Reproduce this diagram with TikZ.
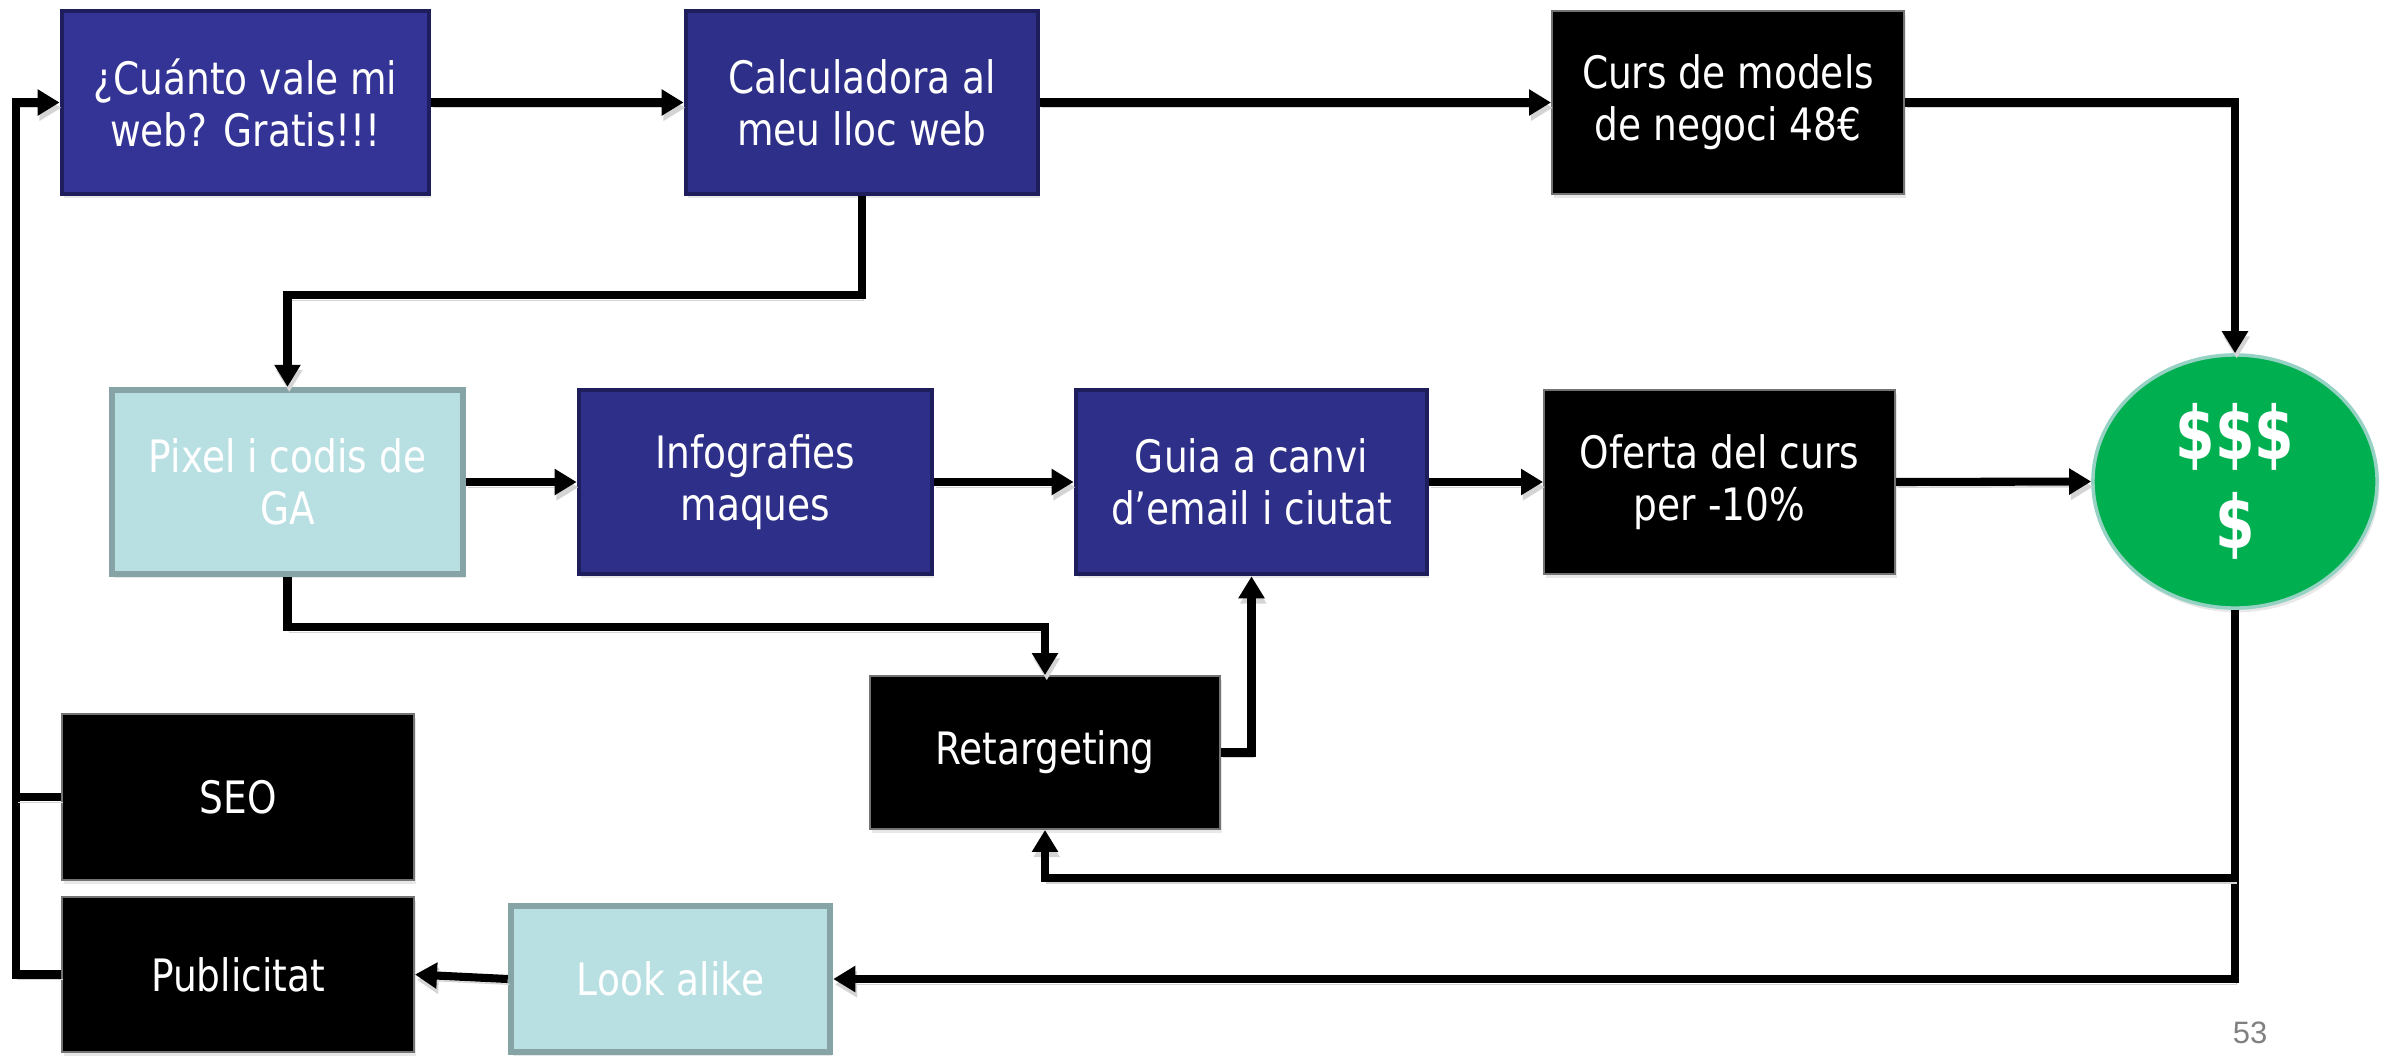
\documentclass[tikz,border=0pt]{standalone}
\usepackage{fontspec}
\setmainfont{DejaVu Sans}[FakeStretch=0.84]
\newfontfamily\moneyfont{DejaVu Sans}[FakeStretch=0.77]
\newfontfamily\numfont{Liberation Sans}
\usetikzlibrary{arrows.meta,shapes.geometric,shadows,calc}
\definecolor{navyA}{RGB}{52,52,150}
\definecolor{navy}{RGB}{46,47,136}
\definecolor{navyedge}{RGB}{30,30,92}
\definecolor{tealfill}{RGB}{184,223,226}
\definecolor{tealedge}{RGB}{134,164,166}
\definecolor{money}{RGB}{0,176,80}
\definecolor{moneyedge}{RGB}{150,210,195}
\begin{document}
\begin{tikzpicture}[x=0.01cm,y=-0.01cm,
  box/.style={rectangle, minimum width=3.52cm, minimum height=1.83cm, align=center, text=white,
    font=\fontsize{12.7}{14.8}\selectfont, inner sep=2pt,
    drop shadow={shadow xshift=0.6pt, shadow yshift=-1.2pt, opacity=0.18}},
  bluebox/.style={box, fill=navy, draw=navyedge, line width=1.3pt},
  blackbox/.style={box, fill=black, draw=black!55, line width=0.5pt},
  tealbox/.style={box, fill=tealfill, draw=tealedge, line width=1.8pt},
  wire/.style={line width=2.3pt, preaction={draw=black!17, transform canvas={shift={(0.5pt,-1.5pt)}}}},
  conn/.style={wire, -{Triangle[length=0.22cm,width=0.25cm]}}]
\useasboundingbox (0,0) rectangle (2385,1057);

% nodes
\node[bluebox, fill=navyA] (cuanto) at (245.5,102.5) [minimum width=3.67cm] {¿Cuánto vale mi\\web? Gratis!!!};
\node[bluebox] (calc) at (862,102.5) {Calculadora al\\meu lloc web};
\node[blackbox] (curs) at (1728,102.5) {Curs de models\\de negoci 48€};
\node[tealbox] (pixel) at (287.5,482) [minimum width=3.51cm, minimum height=1.84cm] {Pixel i codis de\\GA};
\node[bluebox] (info) at (755.5,482) [minimum width=3.53cm, minimum height=1.84cm] {Infografies\\maques};
\node[bluebox] (guia) at (1251.5,482) [minimum width=3.51cm, minimum height=1.84cm] {Guia a canvi\\d’email i ciutat};
\node[blackbox] (oferta) at (1719.5,482) [minimum width=3.51cm, minimum height=1.84cm] {Oferta del curs\\per -10\%};
\node[ellipse, fill=money, draw=moneyedge, line width=1pt, minimum width=2.84cm, minimum height=2.53cm,
  inner sep=0pt, align=center, text=white, font=\moneyfont\fontsize{21}{25.3}\selectfont\bfseries,
  drop shadow={shadow xshift=0.6pt, shadow yshift=-1.2pt, opacity=0.18}] (circ) at (2235,481.5) {\$\$\$\\\$};
\node[blackbox] (ret) at (1045,752.5) [minimum width=3.5cm, minimum height=1.53cm] {Retargeting};
\node[blackbox] (seo) at (238,797) [minimum height=1.66cm] {SEO};
\node[blackbox] (publ) at (238,974.5) [minimum height=1.55cm] {Publicitat};
\node[tealbox] (look) at (670.5,979) [minimum width=3.19cm, minimum height=1.46cm] {Look alike};
\node[font=\numfont\fontsize{8.8}{10}\selectfont, text=black!50] (num) at (2250,1033) {53};

% connectors
\draw[conn] (cuanto.east) -- (calc.west);
\draw[conn] (calc.east) -- (curs.west);
\draw[conn] (curs.east) -| (circ.north);
\draw[conn] (calc.south) -- ++(0,99) -| (pixel.north);
\draw[conn] (pixel.east) -- (info.west);
\draw[conn] (info.east) -- (guia.west);
\draw[conn] (guia.east) -- (oferta.west);
\draw[conn] (oferta.east) -- (circ.west);
\draw[conn] (pixel.south) -- ++(0,50) -| (ret.north);
\draw[conn] (ret.east) -- ++(30,0) -| (guia.south);
\draw[conn] (circ.south) |- (look.east);
\coordinate (split) at ($(circ.south)+(0,268)$);
\draw[conn] (split) -| (ret.south);
\draw[conn] (look.west) -- (publ.east);
\draw[conn] (publ.west) -- ++(-45,0) |- (cuanto.west);
\draw[wire] (seo.west) -- ++(-45,0);
\end{tikzpicture}
\end{document}
